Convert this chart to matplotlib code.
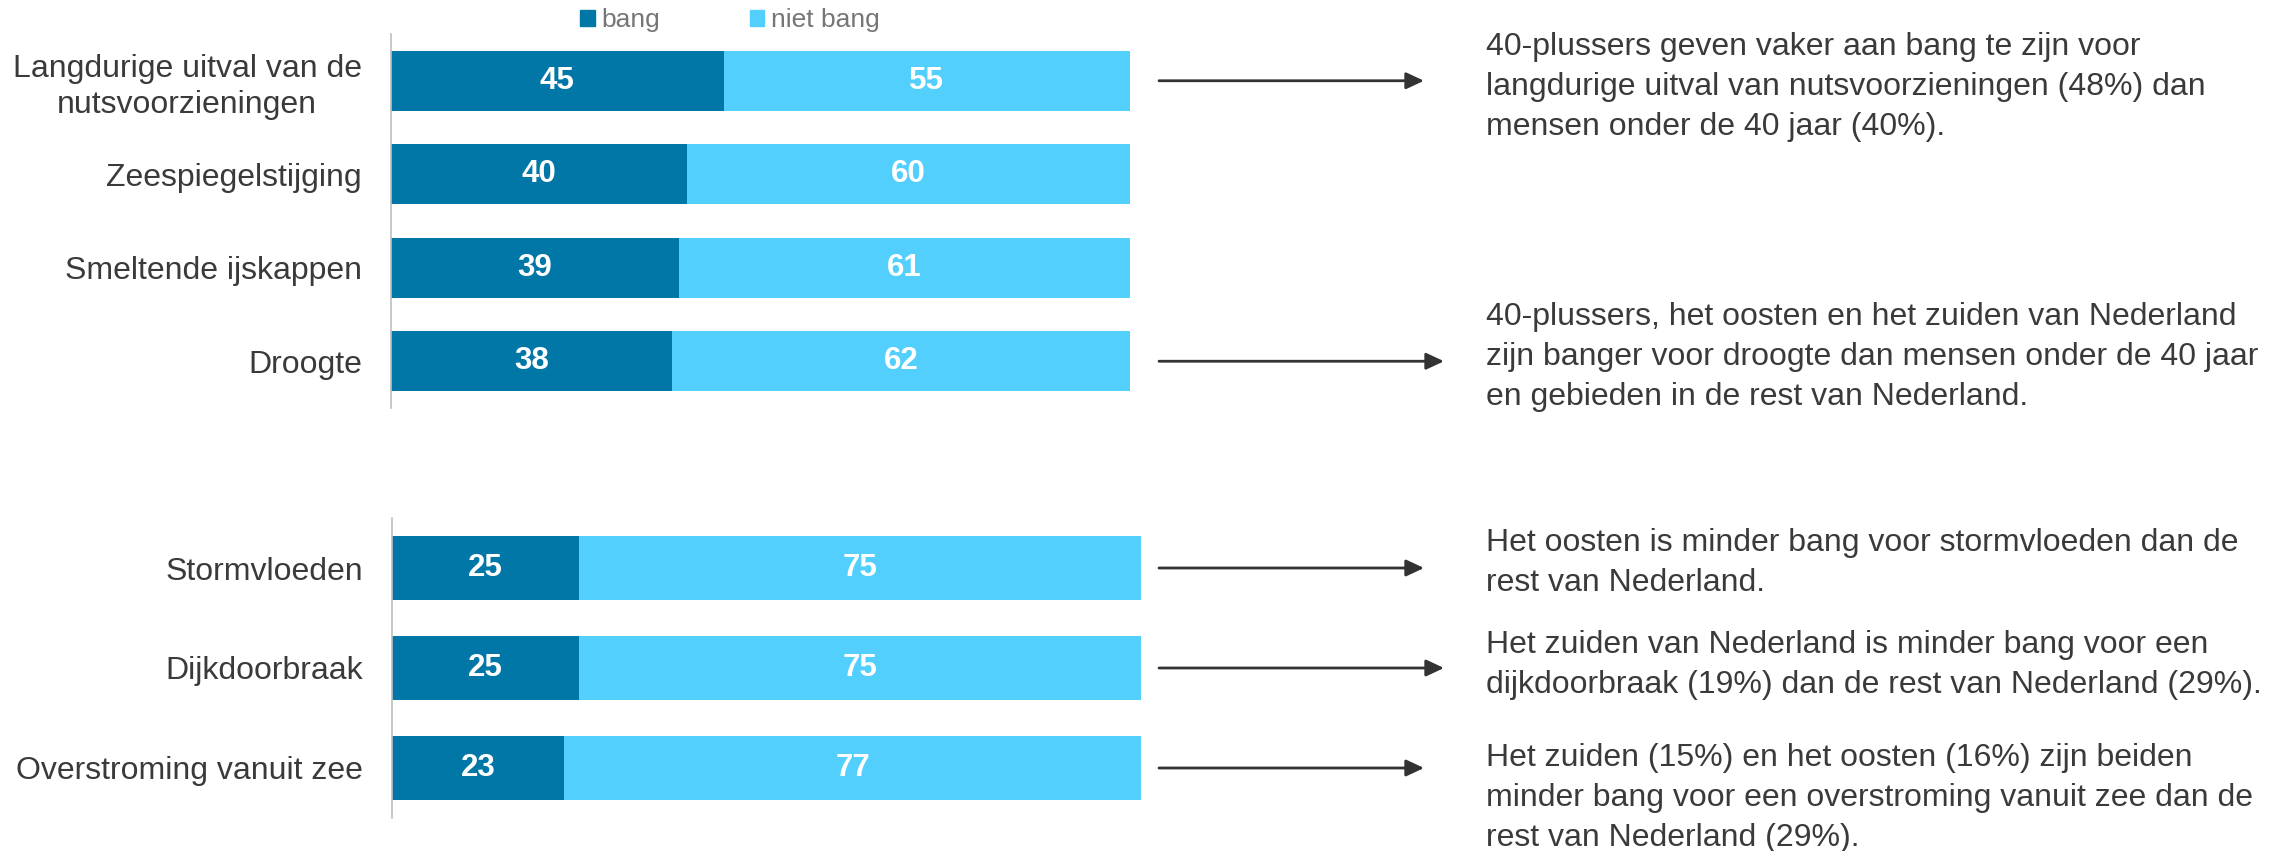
import matplotlib
matplotlib.use('Agg')
import matplotlib.pyplot as plt
from matplotlib.patches import Patch

plt.rcParams['font.family'] = ['Liberation Sans', 'DejaVu Sans']

# ---------------- data ----------------
series_names = ['bang', 'niet bang']

categories_top = ['Langdurige uitval van de\nnutsvoorzieningen', 'Zeespiegelstijging',
                  'Smeltende ijskappen', 'Droogte']
bang_top = [45, 40, 39, 38]
niet_bang_top = [55, 60, 61, 62]

categories_bottom = ['Stormvloeden', 'Dijkdoorbraak', 'Overstroming vanuit zee']
bang_bottom = [25, 25, 23]
niet_bang_bottom = [75, 75, 77]

note_texts = [
    '40-plussers geven vaker aan bang te zijn voor\nlangdurige uitval van nutsvoorzieningen (48%) dan\nmensen onder de 40 jaar (40%).',
    '40-plussers, het oosten en het zuiden van Nederland\nzijn banger voor droogte dan mensen onder de 40 jaar\nen gebieden in de rest van Nederland.',
    'Het oosten is minder bang voor stormvloeden dan de\nrest van Nederland.',
    'Het zuiden van Nederland is minder bang voor een\ndijkdoorbraak (19%) dan de rest van Nederland (29%).',
    'Het zuiden (15%) en het oosten (16%) zijn beiden\nminder bang voor een overstroming vanuit zee dan de\nrest van Nederland (29%).',
]
# which panel / category each note refers to
note_panel = ['top', 'top', 'bottom', 'bottom', 'bottom']
note_category = [0, 3, 0, 1, 2]

# ---------------- style / layout ----------------
DARK = '#0077A6'
LIGHT = '#53CFFE'
TXT = '#3A3A3A'
W, H = 2277, 851

def fx(px):
    return px / W

def fy(py):
    return 1 - py / H

fig = plt.figure(figsize=(W / 100, H / 100), dpi=100)

ax_top = fig.add_axes([fx(391), fy(408), (1130 - 391) / W, (408 - 34) / H])
ax_bot = fig.add_axes([fx(392), fy(818), (1141 - 392) / W, (818 - 518) / H])


def draw_panel(ax, cats, bang, niet):
    y = list(range(len(cats)))
    c1 = ax.barh(y, bang, height=0.645, color=DARK, linewidth=0)
    c2 = ax.barh(y, niet, left=bang, height=0.645, color=LIGHT, linewidth=0)
    for c in (c1, c2):
        ax.bar_label(c, label_type='center', color='white', fontsize=22.5, fontweight='bold')
    ax.set_xlim(0, 100)
    ax.set_ylim(len(cats) - 0.5, -0.5)
    ax.set_yticks(y)
    ax.set_yticklabels(cats, fontsize=23, color=TXT, multialignment='center', linespacing=1.27)
    ax.tick_params(axis='y', length=0, pad=21)
    ax.xaxis.set_visible(False)
    for s in ('top', 'right', 'bottom'):
        ax.spines[s].set_visible(False)
    ax.spines['left'].set_color('#BFBFBF')
    ax.spines['left'].set_linewidth(1.2)
    return c1, c2


h1, h2 = draw_panel(ax_top, categories_top, bang_top, niet_bang_top)
draw_panel(ax_bot, categories_bottom, bang_bottom, niet_bang_bottom)

fig.legend([Patch(color=DARK), Patch(color=LIGHT)], series_names,
           loc='center', bbox_to_anchor=(fx(730), fy(20)), ncol=2, frameon=False,
           fontsize=19, handlelength=0.55, handleheight=0.55, handletextpad=0.25,
           columnspacing=3.4, labelcolor='#767676', borderpad=0)

# arrows + notes
arrow_start = 1159
arrow_end = [1424, 1444, 1424, 1444, 1424]
note_y = [87, 357, 563, 665, 798]
panels = {'top': ax_top, 'bottom': ax_bot}
for txt, pnl, cat, xe, ty in zip(note_texts, note_panel, note_category, arrow_end, note_y):
    ax = panels[pnl]
    ax.annotate('', xy=(fx(xe), cat), xytext=(fx(arrow_start), cat),
                xycoords=('figure fraction', 'data'), textcoords=('figure fraction', 'data'),
                annotation_clip=False,
                arrowprops=dict(arrowstyle='-|>,head_length=0.9,head_width=0.42',
                                mutation_scale=12, lw=2.0, color='#333333',
                                shrinkA=0, shrinkB=0))
    fig.text(fx(1486), fy(ty), txt, ha='left', va='center', fontsize=23,
             color=TXT, linespacing=1.45)

fig.savefig('out.png', dpi=100)
